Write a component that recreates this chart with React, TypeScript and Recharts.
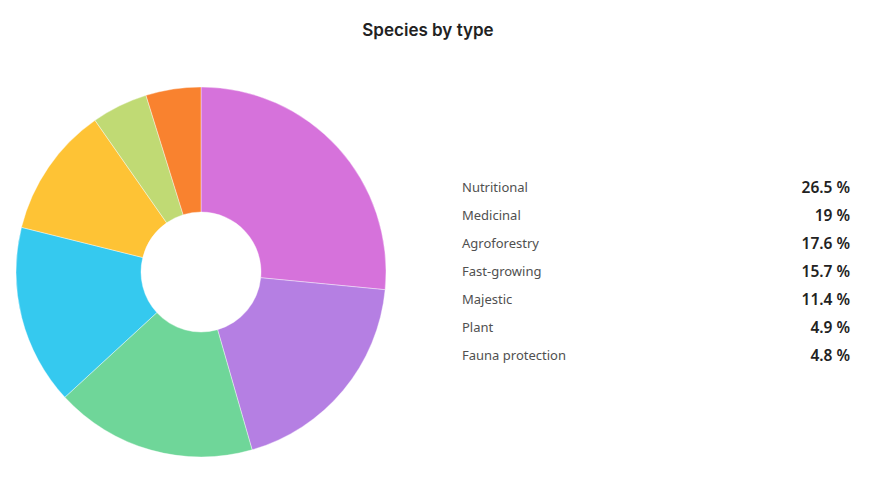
import { PieChart, Pie, Cell, Legend } from 'recharts';

const categories = ['Nutritional', 'Medicinal', 'Agroforestry', 'Fast-growing', 'Majestic', 'Plant', 'Fauna protection'];
const shares = [26.5, 19, 17.6, 15.7, 11.4, 4.9, 4.8];
const colors = ['#d672db', '#b57fe3', '#6fd699', '#35c9ef', '#fec335', '#c0da74', '#f9822f'];

const data = categories.map((name, i) => ({ name, value: shares[i] }));

// legend: name on the left, percentage on the right
const LegendList = () => (
  <div style={{ width: 388 }}>
    {data.map(d => (
      <div
        key={d.name}
        style={{ display: 'flex', justifyContent: 'space-between', alignItems: 'center', height: 28 }}
      >
        <span style={{ fontFamily: '"Noto Sans", sans-serif', fontSize: 13, color: '#505050' }}>{d.name}</span>
        <span style={{ fontFamily: '"Noto Sans", sans-serif', fontSize: 15.5, fontWeight: 600, color: '#222' }}>
          {d.value} %
        </span>
      </div>
    ))}
  </div>
);

export default function App() {
  return (
    <div style={{ position: 'absolute', left: 0, top: 0, width: 874, height: 492, background: '#fff' }}>
      <div
        style={{
          position: 'absolute',
          top: 20,
          left: 0,
          width: 856,
          textAlign: 'center',
          fontFamily: 'Inter, sans-serif',
          fontSize: 17,
          fontWeight: 600,
          color: '#222',
        }}
      >
        Species by type
      </div>
      <PieChart width={874} height={492} margin={{ top: 0, right: 0, bottom: 0, left: 0 }}>
        <Pie
          data={data}
          dataKey="value"
          nameKey="name"
          cx={201}
          cy={272}
          innerRadius={60}
          outerRadius={185}
          startAngle={90}
          endAngle={-270}
          stroke="#fff"
          strokeWidth={0.4}
          isAnimationActive={false}
        >
          {data.map((d, i) => (
            <Cell key={d.name} fill={colors[i]} />
          ))}
        </Pie>
        <Legend
          content={<LegendList />}
          wrapperStyle={{ position: 'absolute', left: 462, top: 173, width: 388 }}
        />
      </PieChart>
    </div>
  );
}
